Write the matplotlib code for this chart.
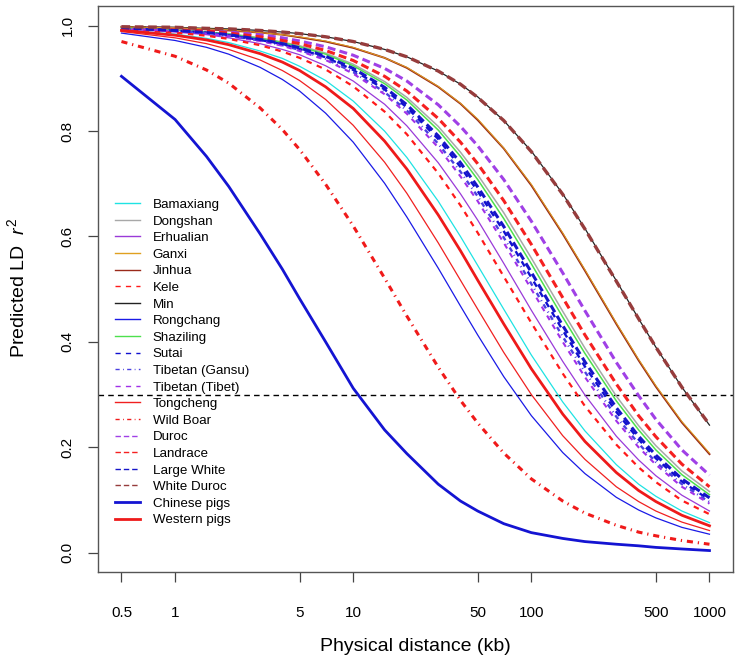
import matplotlib
matplotlib.use("Agg")
import matplotlib.pyplot as plt
from matplotlib.lines import Line2D

plt.rcParams['font.family'] = ['Liberation Sans', 'DejaVu Sans']
plt.rcParams['mathtext.fontset'] = 'custom'
plt.rcParams['mathtext.rm'] = 'Liberation Sans'
plt.rcParams['mathtext.it'] = 'Liberation Sans:italic'

# physical distance (kb) at which the curves were read
dist_kb = [0.5, 1, 1.5, 2, 3, 4, 5, 7, 10, 15, 20, 30, 40, 50, 70, 100, 150, 200, 300, 400, 500, 700, 1000]

bamaxiang = [0.992, 0.984, 0.976, 0.968, 0.952, 0.938, 0.923, 0.896, 0.857, 0.800, 0.750, 0.667, 0.600, 0.545, 0.462, 0.375, 0.286, 0.231, 0.167, 0.130, 0.107, 0.079, 0.057]
dongshan = [0.996, 0.992, 0.988, 0.985, 0.977, 0.969, 0.962, 0.948, 0.927, 0.894, 0.864, 0.809, 0.760, 0.717, 0.645, 0.559, 0.458, 0.388, 0.297, 0.241, 0.203, 0.155, 0.116]
erhualian = [0.994, 0.988, 0.983, 0.977, 0.966, 0.955, 0.945, 0.924, 0.895, 0.851, 0.810, 0.740, 0.681, 0.631, 0.549, 0.460, 0.363, 0.299, 0.221, 0.176, 0.146, 0.109, 0.079]
ganxi = [0.998, 0.996, 0.994, 0.992, 0.987, 0.983, 0.979, 0.971, 0.959, 0.939, 0.921, 0.885, 0.853, 0.823, 0.768, 0.699, 0.607, 0.537, 0.436, 0.367, 0.317, 0.249, 0.189]
jinhua = [0.998, 0.996, 0.993, 0.991, 0.987, 0.983, 0.978, 0.970, 0.958, 0.939, 0.920, 0.884, 0.852, 0.821, 0.767, 0.697, 0.605, 0.535, 0.434, 0.365, 0.315, 0.247, 0.187]
kele = [0.994, 0.987, 0.981, 0.975, 0.963, 0.951, 0.939, 0.917, 0.885, 0.837, 0.794, 0.720, 0.659, 0.607, 0.524, 0.436, 0.340, 0.278, 0.205, 0.162, 0.134, 0.099, 0.073]
min_ = [0.998, 0.997, 0.995, 0.994, 0.991, 0.988, 0.985, 0.979, 0.970, 0.955, 0.941, 0.914, 0.889, 0.865, 0.820, 0.762, 0.681, 0.615, 0.516, 0.444, 0.390, 0.314, 0.242]
rongchang = [0.986, 0.972, 0.959, 0.946, 0.921, 0.898, 0.876, 0.834, 0.779, 0.701, 0.637, 0.540, 0.468, 0.413, 0.334, 0.260, 0.190, 0.150, 0.105, 0.081, 0.066, 0.048, 0.035]
shaziling = [0.996, 0.992, 0.988, 0.984, 0.976, 0.968, 0.960, 0.946, 0.924, 0.890, 0.859, 0.802, 0.752, 0.708, 0.634, 0.548, 0.447, 0.378, 0.288, 0.233, 0.195, 0.148, 0.110]
sutai = [0.995, 0.991, 0.987, 0.982, 0.973, 0.965, 0.956, 0.940, 0.916, 0.879, 0.845, 0.785, 0.732, 0.686, 0.610, 0.522, 0.422, 0.353, 0.267, 0.215, 0.179, 0.135, 0.100]
tibetan_gansu = [0.995, 0.991, 0.986, 0.981, 0.972, 0.963, 0.954, 0.937, 0.912, 0.874, 0.839, 0.776, 0.723, 0.676, 0.598, 0.510, 0.410, 0.343, 0.258, 0.207, 0.172, 0.130, 0.096]
tibetan_tibet = [0.995, 0.990, 0.985, 0.980, 0.971, 0.962, 0.952, 0.935, 0.909, 0.870, 0.833, 0.769, 0.714, 0.667, 0.588, 0.500, 0.400, 0.333, 0.250, 0.200, 0.167, 0.125, 0.093]
tongcheng = [0.989, 0.977, 0.966, 0.955, 0.935, 0.915, 0.896, 0.860, 0.811, 0.741, 0.682, 0.588, 0.517, 0.462, 0.380, 0.300, 0.222, 0.177, 0.125, 0.097, 0.079, 0.058, 0.042]
wild_boar = [0.970, 0.942, 0.916, 0.891, 0.844, 0.803, 0.765, 0.699, 0.620, 0.521, 0.449, 0.352, 0.289, 0.246, 0.189, 0.140, 0.098, 0.075, 0.052, 0.039, 0.032, 0.023, 0.016]
duroc = [0.997, 0.994, 0.991, 0.988, 0.983, 0.977, 0.971, 0.960, 0.944, 0.919, 0.895, 0.850, 0.809, 0.772, 0.708, 0.629, 0.531, 0.459, 0.361, 0.298, 0.253, 0.195, 0.147]
landrace = [0.996, 0.993, 0.990, 0.986, 0.979, 0.972, 0.966, 0.953, 0.934, 0.904, 0.876, 0.824, 0.779, 0.738, 0.668, 0.585, 0.484, 0.413, 0.320, 0.260, 0.220, 0.168, 0.125]
large_white = [0.996, 0.991, 0.987, 0.983, 0.974, 0.966, 0.958, 0.942, 0.919, 0.883, 0.850, 0.791, 0.740, 0.694, 0.619, 0.532, 0.431, 0.362, 0.275, 0.221, 0.185, 0.140, 0.104]
white_duroc = [0.998, 0.997, 0.995, 0.994, 0.991, 0.988, 0.985, 0.979, 0.970, 0.955, 0.941, 0.914, 0.889, 0.864, 0.820, 0.761, 0.680, 0.614, 0.515, 0.444, 0.390, 0.314, 0.243]
chinese_pigs = [0.904, 0.822, 0.752, 0.695, 0.605, 0.538, 0.482, 0.400, 0.312, 0.233, 0.188, 0.130, 0.098, 0.079, 0.055, 0.038, 0.027, 0.021, 0.016, 0.013, 0.010, 0.007, 0.004]
western_pigs = [0.991, 0.982, 0.973, 0.964, 0.947, 0.931, 0.915, 0.884, 0.843, 0.781, 0.728, 0.641, 0.573, 0.517, 0.434, 0.349, 0.263, 0.211, 0.152, 0.118, 0.097, 0.071, 0.051]

names = ["Bamaxiang", "Dongshan", "Erhualian", "Ganxi", "Jinhua", "Kele", "Min",
         "Rongchang", "Shaziling", "Sutai", "Tibetan (Gansu)", "Tibetan (Tibet)",
         "Tongcheng", "Wild Boar", "Duroc", "Landrace", "Large White", "White Duroc",
         "Chinese pigs", "Western pigs"]
series = [bamaxiang, dongshan, erhualian, ganxi, jinhua, kele, min_, rongchang,
          shaziling, sutai, tibetan_gansu, tibetan_tibet, tongcheng, wild_boar,
          duroc, landrace, large_white, white_duroc, chinese_pigs, western_pigs]

solid = None
short_dash = (2.5, 2.5)
long_dash = (2.6, 1.4)
dot_dash = (2.0, 1.6, 0.4, 1.6)

# colour, line width, dash pattern, zorder
style = {
    "Bamaxiang": ("#1EE3E3", 0.9, solid, 2),
    "Dongshan": ("#A8A8A8", 1.1, solid, 2),
    "Erhualian": ("#9A3AD8", 0.9, solid, 2),
    "Ganxi": ("#E0A020", 0.7, solid, 3),
    "Jinhua": ("#9A2A1A", 1.4, solid, 2),
    "Kele": ("#FF1A1A", 1.6, short_dash, 2),
    "Min": ("#222222", 0.9, solid, 2),
    "Rongchang": ("#1A1AE6", 0.9, solid, 2),
    "Shaziling": ("#4DE04D", 1.1, solid, 2),
    "Sutai": ("#1010D0", 1.7, short_dash, 2),
    "Tibetan (Gansu)": ("#4A40E0", 1.7, dot_dash, 2),
    "Tibetan (Tibet)": ("#A030E8", 1.5, short_dash, 2),
    "Tongcheng": ("#F02020", 0.9, solid, 2),
    "Wild Boar": ("#F01A1A", 2.2, dot_dash, 2),
    "Duroc": ("#A040E6", 2.2, long_dash, 2),
    "Landrace": ("#F52020", 2.2, long_dash, 2),
    "Large White": ("#1515C8", 2.2, long_dash, 2),
    "White Duroc": ("#963C3C", 2.4, long_dash, 3),
    "Chinese pigs": ("#1414D2", 2.0, solid, 4),
    "Western pigs": ("#EE1A1A", 2.0, solid, 4),
}

fig = plt.figure(figsize=(7.38, 6.57), dpi=100)
ax = fig.add_axes([0.1328, 0.1301, 0.8604, 0.8614])

handles = []
for name, vals in zip(names, series):
    col, lw, dash, z = style[name]
    ls = '-' if dash is None else (0, dash)
    ax.plot(dist_kb, vals, color=col, lw=lw, linestyle=ls, zorder=z)
    if name in ("Chinese pigs", "Western pigs"):
        hlw = 2.0
    else:
        hlw = 1.0
    hls = '-' if dash is None else (0, tuple(d * 1.5 for d in dash))
    handles.append(Line2D([], [], color=col, lw=hlw, linestyle=hls))

ax.axhline(0.3, color='black', lw=1.0, linestyle=(0, (4, 3)), zorder=1)

ax.set_xscale('log')
ax.set_xlim(0.3692, 1355)
ax.set_ylim(-0.0358, 1.0382)

xt = [0.5, 1, 5, 10, 50, 100, 500, 1000]
ax.set_xticks(xt)
ax.set_xticklabels(["0.5", "1", "5", "10", "50", "100", "500", "1000"])
ax.minorticks_off()
ax.set_yticks([0.0, 0.2, 0.4, 0.6, 0.8, 1.0])
ax.set_yticklabels(["0.0", "0.2", "0.4", "0.6", "0.8", "1.0"], rotation=90, va='center')

ax.tick_params(axis='both', labelsize=11, length=7, width=0.9, color='#444444')
ax.tick_params(axis='x', pad=18)
ax.tick_params(axis='y', pad=10)
for sp in ax.spines.values():
    sp.set_color('#555555')
    sp.set_linewidth(1.0)

ax.set_xlabel("Physical distance (kb)", fontsize=14, labelpad=13)
ax.set_ylabel("Predicted LD  $r^2$", fontsize=14, labelpad=23)

ax.legend(handles, names, loc='upper left', bbox_to_anchor=(0.026, 0.659),
          frameon=False, fontsize=9.6, handlelength=1.9, handletextpad=0.95,
          labelspacing=0.32, borderpad=0, borderaxespad=0)

fig.savefig("out.png", dpi=100)
